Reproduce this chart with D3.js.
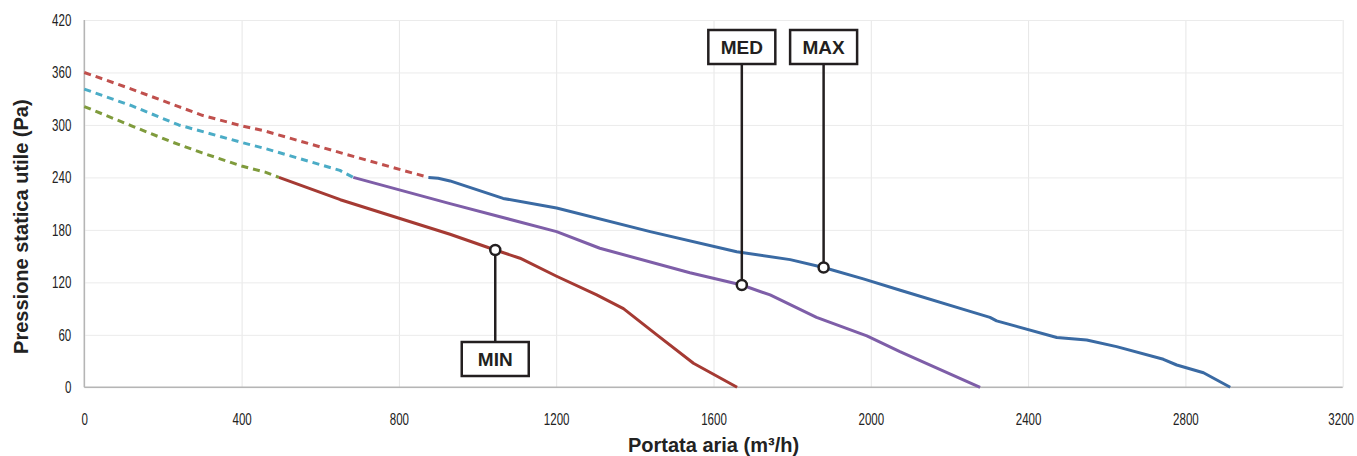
<!DOCTYPE html>
<html>
<head>
<meta charset="utf-8">
<script src="https://cdn.jsdelivr.net/npm/d3@7"></script>
<style>
  body { margin: 0; background: #fff; }
  .tick text { font-family: "Liberation Sans Narrow", "Liberation Sans", Arial, sans-serif; font-size: 17px; fill: #222; }
  .title { font-family: "Liberation Sans", Arial, sans-serif; font-weight: bold; font-size: 20px; fill: #222; }
  .tag { font-family: "Liberation Sans", Arial, sans-serif; font-weight: bold; font-size: 19px; fill: #231f20; }
</style>
</head>
<body>
<div id="chart"></div>
<script>
// x ticks / y ticks
var xTicks = [0, 400, 800, 1200, 1600, 2000, 2400, 2800, 3200];
var yTicks = [0, 60, 120, 180, 240, 300, 360, 420];

// dashed extensions (portata, pressione)
var maxDashed = [[0,360],[120,341],[240,321],[300,311],[400,299],[460,293],[700,262],[875,240]];
var medDashed = [[0,341],[120,322],[240,300],[400,280],[460,273],[650,248],[684,240]];
var minDashed = [[0,321],[120,299],[220,281],[300,268],[400,253],[460,246],[495,240]];

// working curves
var maxCurve = [[875,240],[900,239],[930,236],[1065,216],[1201,205],[1439,178],[1659,155],[1795,146],[1880,137],
  [1981,124],[2075,111],[2244,88],[2303,80],[2320,76],[2473,57],[2549,54],[2625,46.5],[2744,32],[2778,25.5],[2846,16.7],[2914,0]];
var medCurve = [[684,240],[930,210],[1201,178],[1311,159],[1540,131],[1672,117],[1744,105.6],[1862,80],[1990,58.7],[2074,40.7],[2278,0]];
var minCurve = [[495,240],[651,214.5],[930,175],[1045,157],[1108,147.6],[1201,127],[1303,105.6],[1371,90],[1456,60],[1549,27.5],[1660,0]];

// callouts: label, point on curve, box top y in px
var tags = [
  {name: "MIN", pt: [1045,157], boxY: 342, below: true},
  {name: "MED", pt: [1672,117], boxY: 30, below: false},
  {name: "MAX", pt: [1880,137], boxY: 30, below: false}
];

var width = 1357, height = 456;
var margin = {top: 20, right: 14.3, bottom: 68.7, left: 84.3};
var w = width - margin.left - margin.right;
var h = height - margin.top - margin.bottom;

var svg = d3.select("#chart").append("svg")
  .attr("width", width)
  .attr("height", height);

var g = svg.append("g").attr("transform", "translate(" + margin.left + "," + margin.top + ")");

var x = d3.scaleLinear().domain([0, 3200]).range([0, w]);
var y = d3.scaleLinear().domain([0, 420]).range([h, 0]);

// squeeze tick digits sideways, the original uses a condensed face
var sx = 0.68;

// grid + axes
var xAxis = g.append("g").attr("transform", "translate(0," + h + ")")
  .call(d3.axisBottom(x).tickValues(xTicks).tickSize(-h).tickPadding(0).tickFormat(d3.format("d")));
xAxis.select(".domain").remove();
xAxis.selectAll("line").attr("stroke", "#e6e6e6");
xAxis.selectAll("text").attr("dy", 0).attr("y", 38)
  .attr("transform", "scale(" + sx + ",1)");
// last label sits against the right edge
xAxis.selectAll("text").filter(function(d){ return d === 3200; }).attr("x", -2 / sx);

var yAxis = g.append("g")
  .call(d3.axisLeft(y).tickValues(yTicks).tickSize(-w).tickPadding(13).tickFormat(d3.format("d")));
yAxis.select(".domain").remove();
yAxis.selectAll("line").attr("stroke", "#ebebeb");
yAxis.selectAll("text").attr("x", -13 / sx)
  .attr("transform", "scale(" + sx + ",1)");

g.append("line").attr("x1", 0).attr("x2", 0).attr("y1", 0).attr("y2", h)
  .attr("stroke", "#b5b5b5").attr("stroke-width", 1.5);
g.append("line").attr("x1", 0).attr("x2", w).attr("y1", h).attr("y2", h)
  .attr("stroke", "#b5b5b5").attr("stroke-width", 1.5);

var line = d3.line().x(function(d){ return x(d[0]); }).y(function(d){ return y(d[1]); });

function drawLine(data, color, dashed) {
  g.append("path").datum(data)
    .attr("d", line)
    .attr("fill", "none")
    .attr("stroke", color)
    .attr("stroke-width", 3)
    .attr("stroke-linejoin", "round")
    .attr("stroke-dasharray", dashed ? "7,5" : null);
}

drawLine(maxDashed, "#c0504d", true);
drawLine(medDashed, "#4bacc6", true);
drawLine(minDashed, "#7f9b3c", true);
drawLine(maxCurve, "#3a6aa3", false);
drawLine(medCurve, "#7e5ea8", false);
drawLine(minCurve, "#a53a33", false);

// callouts
var boxW = 67, boxH = 34;
tags.forEach(function(t) {
  var px = x(t.pt[0]), py = y(t.pt[1]);
  var by = t.boxY - margin.top;
  g.append("line")
    .attr("x1", px).attr("x2", px)
    .attr("y1", py).attr("y2", t.below ? by : by + boxH)
    .attr("stroke", "#231f20").attr("stroke-width", 2.5);
  g.append("rect")
    .attr("x", px - boxW / 2).attr("y", by)
    .attr("width", boxW).attr("height", boxH)
    .attr("fill", "#fff").attr("stroke", "#231f20").attr("stroke-width", 2.5);
  g.append("text").attr("class", "tag")
    .attr("x", px).attr("y", by + boxH / 2 + 7)
    .attr("text-anchor", "middle")
    .text(t.name);
  g.append("circle")
    .attr("cx", px).attr("cy", py).attr("r", 5)
    .attr("fill", "#fff").attr("stroke", "#231f20").attr("stroke-width", 2.5);
});

// axis titles
svg.append("text").attr("class", "title")
  .attr("x", margin.left + w / 2).attr("y", 452)
  .attr("text-anchor", "middle")
  .text("Portata aria (m³/h)");

svg.append("text").attr("class", "title")
  .attr("transform", "translate(28," + (margin.top + h / 2 + 23) + ") rotate(-90)")
  .attr("text-anchor", "middle")
  .text("Pressione statica utile (Pa)");
</script>
</body>
</html>
